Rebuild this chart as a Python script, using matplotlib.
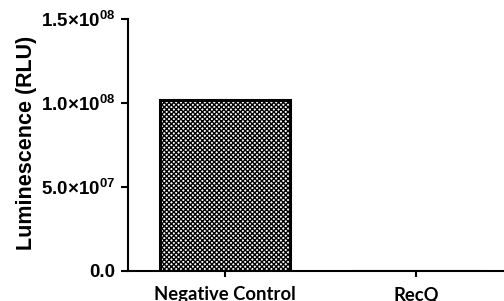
import matplotlib
matplotlib.use('Agg')
import matplotlib.pyplot as plt
from matplotlib.ticker import FixedLocator, FixedFormatter

# Data
categories = ['Negative Control', 'RecQ']
values = [1.02e8, 0.0]
y_ticks = [0.0, 5.0e7, 1.0e8, 1.5e8]
y_tick_labels = ['0.0', r'5.0$\times$10$^{07}$', r'1.0$\times$10$^{08}$', r'1.5$\times$10$^{08}$']

plt.rcParams['font.family'] = 'Liberation Sans'
plt.rcParams['font.weight'] = 'bold'
plt.rcParams['mathtext.fontset'] = 'custom'
plt.rcParams['mathtext.rm'] = 'Liberation Sans:bold'
plt.rcParams['mathtext.default'] = 'rm'
plt.rcParams['hatch.linewidth'] = 1.0

fig = plt.figure(figsize=(5.04, 3.01), dpi=100)
ax = fig.add_axes([0.254, 0.0997, 0.746, 0.8373])

x = list(range(len(categories)))
ax.bar(x, values, width=0.68, facecolor='white', edgecolor='black',
       linewidth=2.2, hatch='xxxxxxx', zorder=2)

ax.set_xlim(-0.508, 1.46)
ax.set_ylim(0, 1.5e8)

ax.yaxis.set_major_locator(FixedLocator(y_ticks))
ax.yaxis.set_major_formatter(FixedFormatter(y_tick_labels))
ax.set_xticks(x)
ax.set_xticklabels(categories, fontname='Lato', fontweight='bold', fontsize=13.3)

for s in ['top', 'right']:
    ax.spines[s].set_visible(False)
for s in ['left', 'bottom']:
    ax.spines[s].set_linewidth(1.5)

ax.tick_params(axis='y', length=5, width=1.5, pad=4, labelsize=13.5)
ax.tick_params(axis='x', length=4, width=1.5, pad=7)

ax.set_ylabel('Luminescence (RLU)', fontsize=15.5, fontweight='bold',
              va='center', ha='center')
ax.yaxis.set_label_coords(-0.271, 0.508)

fig.savefig('out.png', dpi=100)
